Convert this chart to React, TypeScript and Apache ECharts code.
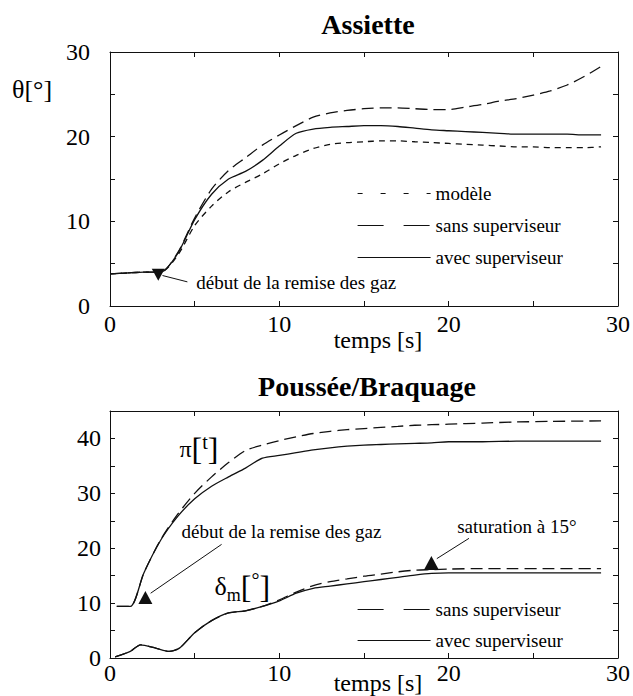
import React, { useEffect, useRef } from 'react';
import * as echarts from 'echarts';

// ---- Top chart: Assiette (theta in degrees vs time in s)
const tTop = [0, 1, 2, 3, 4, 5, 6, 7, 8, 9, 10, 11, 12, 13, 14, 15, 16, 17, 18, 19, 20, 21, 22, 23, 24, 25, 26, 27, 28, 29];
const thetaModel = [3.8, 3.9, 4.0, 4.0, 6.0, 9.5, 11.8, 13.5, 14.6, 15.6, 16.8, 17.8, 18.6, 19.1, 19.3, 19.4, 19.5, 19.5, 19.4, 19.3, 19.2, 19.1, 19.0, 18.9, 18.8, 18.8, 18.7, 18.7, 18.7, 18.8];
const thetaSans = [3.8, 3.9, 4.0, 4.0, 6.3, 10.4, 13.8, 16.0, 17.5, 19.0, 20.2, 21.3, 22.3, 22.8, 23.1, 23.3, 23.4, 23.4, 23.3, 23.2, 23.2, 23.5, 23.8, 24.2, 24.5, 24.9, 25.4, 26.1, 27.1, 28.3];
const thetaAvec = [3.8, 3.9, 4.0, 4.0, 6.2, 10.2, 13.2, 15.0, 15.9, 17.2, 18.9, 20.4, 20.9, 21.1, 21.2, 21.3, 21.3, 21.2, 21.0, 20.8, 20.7, 20.6, 20.5, 20.4, 20.3, 20.3, 20.3, 20.3, 20.2, 20.2];

// ---- Bottom chart: Poussée (pi [t]) and Braquage (delta_m [deg])
const tPi = [0.4, 1.2, 2, 3, 4, 5, 6, 7, 8, 9, 10, 11, 12, 13, 14, 15, 16, 17, 18, 19, 20, 22, 24, 26, 29];
const piSans = [9.4, 9.4, 15.5, 21.6, 26.2, 30.0, 33.0, 35.6, 37.8, 38.8, 39.6, 40.3, 40.9, 41.3, 41.6, 41.8, 42.0, 42.2, 42.4, 42.5, 42.6, 42.8, 43.0, 43.1, 43.2];
const piAvec = [9.4, 9.4, 15.5, 21.5, 25.8, 29.0, 31.3, 33.0, 34.6, 36.4, 36.9, 37.4, 37.9, 38.3, 38.6, 38.8, 38.9, 39.0, 39.1, 39.2, 39.4, 39.4, 39.5, 39.5, 39.5];
const tDelta = [0.3, 1.2, 1.8, 2.7, 3.5, 4.1, 5, 6, 7, 8, 9, 10, 11, 12, 13, 14, 15, 16, 17, 18, 19, 20, 22, 24, 26, 29];
const deltaSans = [0.2, 1.2, 2.4, 1.8, 1.2, 1.8, 4.6, 6.8, 8.2, 8.6, 9.4, 10.6, 12.0, 13.2, 13.9, 14.4, 14.9, 15.3, 15.7, 16.0, 16.1, 16.2, 16.3, 16.3, 16.3, 16.3];
const deltaAvec = [0.2, 1.2, 2.4, 1.8, 1.2, 1.8, 4.6, 6.8, 8.2, 8.6, 9.4, 10.4, 11.8, 12.7, 13.1, 13.5, 13.9, 14.3, 14.7, 15.1, 15.4, 15.5, 15.5, 15.5, 15.5, 15.5];

// ---- tick labels
const xTickLabels = [0, 10, 20, 30];
const topYTickLabels = [0, 10, 20, 30];
const bottomYTickLabels = [0, 10, 20, 30, 40];

const FONT = 'Liberation Serif, Times New Roman, Times, DejaVu Serif, serif';
const INK = '#111';

const zip = (t: number[], v: number[]) => t.map((x, i) => [x, v[i]]);

const dashModel = [6, 5];
const dashSans = [12, 6];
const legendDashModel = [5, 18];
const legendDashSans = [26, 20];

function buildOption() {
  const base = { fontFamily: FONT, color: '#000' };
  const labelFmt = (list: number[]) => (v: number) => (list.indexOf(v) >= 0 ? String(v) : '');

  const mainX = (gridIndex: number, nameGap: number, margin: number) => ({
    type: 'value', gridIndex, position: 'bottom', min: 0, max: 30, interval: 5,
    name: 'temps [s]', nameLocation: 'middle', nameGap, nameMoveOverlap: false,
    nameTextStyle: { ...base, fontSize: 24, padding: [0, 0, 0, 28] },
    axisLine: { show: true, onZero: false, lineStyle: { color: INK, width: 1 } },
    axisTick: { show: true, inside: true, length: 5, lineStyle: { color: INK } },
    axisLabel: { show: true, margin, ...base, fontSize: 24, formatter: labelFmt(xTickLabels) },
    splitLine: { show: false },
  });
  const frameX = (gridIndex: number) => ({
    type: 'value', gridIndex, position: 'top', min: 0, max: 30, interval: 5,
    axisLine: { show: true, onZero: false, lineStyle: { color: INK, width: 1 } },
    axisTick: { show: true, inside: true, length: 5, lineStyle: { color: INK } },
    axisLabel: { show: false }, splitLine: { show: false },
  });
  const mainY = (gridIndex: number, max: number, margin: number, ticks: number[]) => ({
    type: 'value', gridIndex, position: 'left', min: 0, max, interval: 5,
    axisLine: { show: true, onZero: false, lineStyle: { color: INK, width: 1 } },
    axisTick: { show: true, inside: true, length: 5, lineStyle: { color: INK } },
    axisLabel: { show: true, margin, ...base, fontSize: 24, formatter: labelFmt(ticks) },
    splitLine: { show: false },
  });
  const frameY = (gridIndex: number, max: number) => ({
    type: 'value', gridIndex, position: 'right', min: 0, max, interval: 5,
    axisLine: { show: true, onZero: false, lineStyle: { color: INK, width: 1 } },
    axisTick: { show: true, inside: true, length: 5, lineStyle: { color: INK } },
    axisLabel: { show: false }, splitLine: { show: false },
  });

  const line = (name: string, data: number[][], xi: number, yi: number, dash: any, extra: any = {}) => ({
    type: 'line', name, data, xAxisIndex: xi, yAxisIndex: yi,
    symbol: 'none', smooth: 0.25, silent: true,
    lineStyle: { color: INK, width: 1.3, type: dash },
    itemStyle: { color: INK },
    ...extra,
  });

  const textPoint = (coord: number[], text: string, size = 19, rich?: any) => ({
    coord, symbol: 'rect', symbolSize: 0,
    label: {
      show: true, position: 'right', distance: 0, formatter: text,
      fontFamily: FONT, fontSize: size, color: '#000', ...(rich ? { rich } : {}),
    },
  });
  const triangle = (coord: number[], rotate = 0, size = 13) => ({
    coord, symbol: 'triangle', symbolSize: [size, size - 1], symbolRotate: rotate,
    itemStyle: { color: INK }, label: { show: false },
  });
  const arrow = (from: number[], to: number[]) => [{ coord: from }, { coord: to }];
  const markLineStyle = {
    silent: true, symbol: ['none', 'none'], label: { show: false },
    lineStyle: { color: INK, width: 1, type: 'solid' },
  };

  const richPi = {
    p: { fontFamily: FONT, fontSize: 24, color: '#000', lineHeight: 34 },
    b: { fontFamily: FONT, fontSize: 32, color: '#000', lineHeight: 34 },
    t: { fontFamily: FONT, fontSize: 20, color: '#000', lineHeight: 24, verticalAlign: 'top' },
  };
  const richDelta = {
    d: { fontFamily: FONT, fontSize: 26, color: '#000', lineHeight: 34 },
    m: { fontFamily: FONT, fontSize: 18, color: '#000', lineHeight: 16, verticalAlign: 'bottom' },
    b: { fontFamily: FONT, fontSize: 32, color: '#000', lineHeight: 34 },
    o: { fontFamily: FONT, fontSize: 20, color: '#000', lineHeight: 26, verticalAlign: 'top' },
  };

  const legendText = { fontFamily: FONT, fontSize: 19, color: '#000' };
  const hidden = { opacity: 0, color: 'rgba(0,0,0,0)', borderWidth: 0 };

  return {
    animation: false,
    backgroundColor: '#fff',
    textStyle: { fontFamily: FONT },
    title: [
      { text: 'Assiette', left: 368, top: 10, textAlign: 'center', padding: 0,
        textStyle: { fontFamily: FONT, fontWeight: 'bold', fontSize: 28, color: '#000' } },
      { text: 'Poussée/Braquage', left: 367, top: 372, textAlign: 'center', padding: 0,
        textStyle: { fontFamily: FONT, fontWeight: 'bold', fontSize: 28, color: '#000' } },
    ],
    grid: [
      { left: 110, top: 52, width: 508, height: 254, outerBoundsMode: 'none', containLabel: false },
      { left: 110, top: 411, width: 508, height: 247, outerBoundsMode: 'none', containLabel: false },
    ],
    xAxis: [mainX(0, 22, 6), frameX(0), mainX(1, 13, 3), frameX(1)],
    yAxis: [mainY(0, 30, 20, topYTickLabels), frameY(0, 30), mainY(1, 45, 9, bottomYTickLabels), frameY(1, 45)],
    legend: [
      {
        orient: 'vertical', left: 357, top: 184, itemWidth: 73, itemHeight: 14, itemGap: 13,
        padding: 0, selectedMode: false, textStyle: legendText,
        data: [
          { name: 'modèle', itemStyle: hidden, lineStyle: { type: legendDashModel, width: 1.2, color: INK } },
          { name: 'sans superviseur', itemStyle: hidden, lineStyle: { type: legendDashSans, width: 1.2, color: INK } },
          { name: 'avec superviseur', itemStyle: hidden, lineStyle: { type: 'solid', width: 1.2, color: INK } },
        ],
      },
      {
        orient: 'vertical', left: 357, top: 600, itemWidth: 73, itemHeight: 14, itemGap: 12,
        padding: 0, selectedMode: false, textStyle: legendText,
        data: [
          { name: 'sans superviseur', itemStyle: hidden, lineStyle: { type: legendDashSans, width: 1.2, color: INK } },
          { name: 'avec superviseur', itemStyle: hidden, lineStyle: { type: 'solid', width: 1.2, color: INK } },
        ],
      },
    ],
    graphic: [
      { type: 'text', left: 12, top: 76, style: { text: 'θ[°]', fontFamily: FONT, fontSize: 26, fill: '#000' } },
    ],
    series: [
      line('modèle', zip(tTop, thetaModel), 0, 0, dashModel),
      line('sans superviseur', zip(tTop, thetaSans), 0, 0, dashSans),
      line('avec superviseur', zip(tTop, thetaAvec), 0, 0, 'solid', {
        markPoint: {
          silent: true,
          data: [
            triangle([2.85, 3.7], 180, 13),
            textPoint([5.1, 2.8], 'début de la remise des gaz'),
          ],
        },
        markLine: { ...markLineStyle, data: [arrow([4.57, 2.85], [3.1, 3.6])] },
      }),
      line('sans superviseur', zip(tPi, piSans), 2, 2, dashSans),
      line('avec superviseur', zip(tPi, piAvec), 2, 2, 'solid', {
        markPoint: {
          silent: true,
          data: [
            triangle([2.09, 11.0], 0, 14),
            textPoint([4.22, 23.1], 'début de la remise des gaz'),
            textPoint([4.1, 38.0], '{p|π}{b|[}{t|t}{b|]}', 24, richPi),
          ],
        },
        markLine: { ...markLineStyle, data: [arrow([6.59, 20.7], [2.4, 11.8])] },
      }),
      line('sans superviseur', zip(tDelta, deltaSans), 2, 2, dashSans),
      line('avec superviseur', zip(tDelta, deltaAvec), 2, 2, 'solid', {
        markPoint: {
          silent: true,
          data: [
            triangle([18.98, 17.3], 0, 15),
            textPoint([20.5, 24.0], 'saturation à 15°'),
            textPoint([6.17, 13.0], '{d|δ}{m|m}{b|[}{o|°}{b|]}', 26, richDelta),
          ],
        },
        markLine: { ...markLineStyle, data: [arrow([21.2, 21.8], [19.3, 18.1])] },
      }),
    ],
  };
}

export default function App() {
  const ref = useRef<HTMLDivElement>(null);
  useEffect(() => {
    if (!ref.current) return;
    const chart = echarts.init(ref.current, undefined, { renderer: 'svg' });
    chart.setOption(buildOption() as any);
    return () => chart.dispose();
  }, []);
  return (
    <div
      ref={ref}
      style={{ position: 'fixed', left: 0, top: 0, width: 633, height: 696, background: '#fff' }}
    />
  );
}
